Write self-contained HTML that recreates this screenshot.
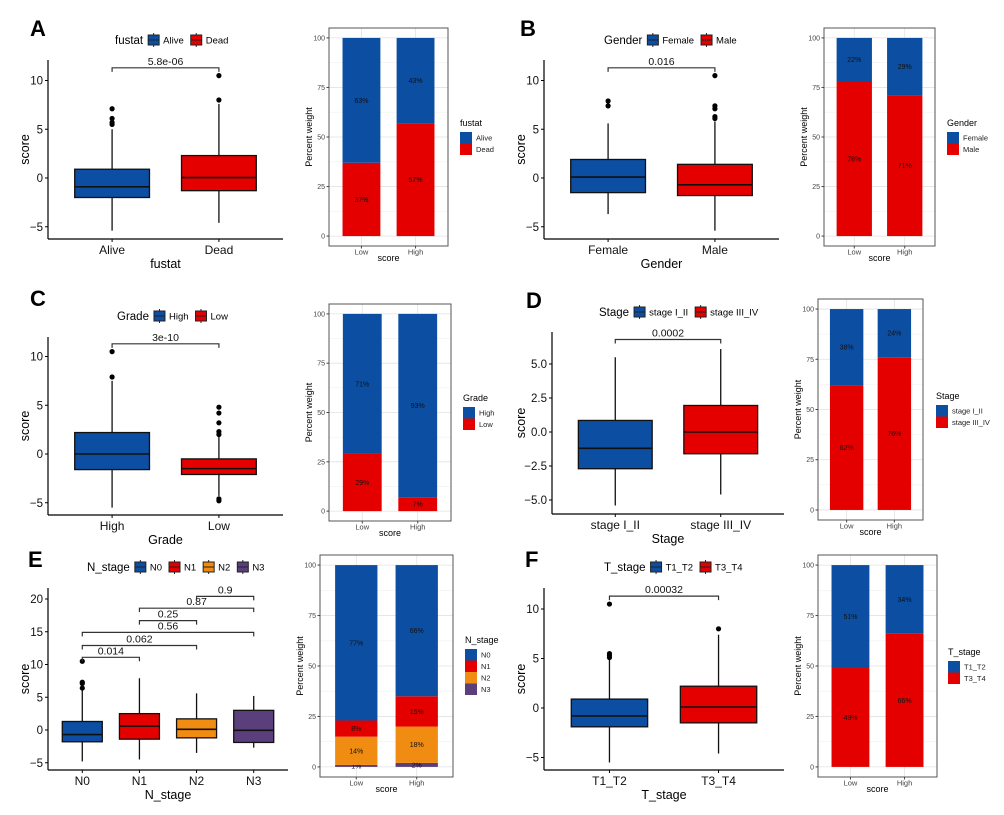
<!DOCTYPE html>
<html><head><meta charset="utf-8"><style>
html,body{margin:0;padding:0;background:#fff;}
svg{display:block;font-family:"Liberation Sans",Arial,sans-serif;}
</style></head><body>
<svg id="fig" width="1004" height="815" viewBox="0 0 1004 815" xmlns="http://www.w3.org/2000/svg"></svg>
<script>
// ---------- DATA ----------
const aCats=['Alive','Dead'];
const aStats=[[-5.4,-2.0,-0.9,0.9,5.0],[-4.6,-1.3,0.05,2.3,7.6]];
const aOut=[[5.5,5.7,6.1,7.1],[8.0,10.5]];
const aBrk=[[0,1,11.3,'5.8e-06']];
const bCats=['Female','Male'];
const bStats=[[-3.7,-1.5,0.1,1.9,5.6],[-5.4,-1.8,-0.7,1.4,5.8]];
const bOut=[[7.4,7.9],[6.1,6.3,7.1,7.4,10.5]];
const bBrk=[[0,1,11.3,'0.016']];
const cCats=['High','Low'];
const cStats=[[-5.5,-1.6,0.0,2.2,7.5],[-4.3,-2.1,-1.5,-0.5,1.8]];
const cOut=[[7.9,10.5],[2.0,2.3,3.2,4.2,4.8,-4.6,-4.8]];
const cBrk=[[0,1,11.3,'3e-10']];
const dCats=['stage I_II','stage III_IV'];
const dStats=[[-5.4,-2.7,-1.2,0.85,5.5],[-4.6,-1.6,0.0,1.95,6.1]];
const dOut=[[],[]];
const dBrk=[[0,1,6.8,'0.0002']];
const eCats=['N0','N1','N2','N3'];
const eStats=[[-4.8,-1.8,-0.7,1.3,6.2],[-4.5,-1.4,0.6,2.5,7.9],[-3.5,-1.2,0.1,1.7,5.6],[-2.7,-1.9,-0.05,3.0,5.2]];
const eOut=[[6.4,7.1,7.3,10.5],[],[],[]];
const eBrk=[[0,1,11.1,'0.014'],[0,2,12.9,'0.062'],[0,3,14.9,'0.56'],[1,2,16.7,'0.25'],[1,3,18.6,'0.87'],[2,3,20.4,'0.9']];
const fCats=['T1_T2','T3_T4'];
const fStats=[[-5.5,-1.9,-0.8,0.9,4.9],[-4.6,-1.5,0.1,2.2,7.4]];
const fOut=[[5.1,5.3,5.5,10.5],[8.0]];
const fBrk=[[0,1,11.3,'0.00032']];
// stacked bars: groups (legend order), values per x-category [Low, High]
const barCats=['Low','High'];
const aBarVals=[[63,43],[37,57]];
const bBarVals=[[22,29],[78,71]];
const cBarVals=[[71,93],[29,7]];
const dBarVals=[[38,24],[62,76]];
const eBarVals=[[77,65],[8,15],[14,18],[1,2]];
const eBarLabels=[['77%','66%'],['8%','15%'],['14%','18%'],['1%','2%']];
const fBarVals=[[51,34],[49,66]];
const ticks5=[-5,0,5,10];
const ticksD=[-5,-2.5,0,2.5,5];
const ticksE=[-5,0,5,10,15,20];
const barTicks=[0,25,50,75,100];

const BLUE='#0b4ea2',RED='#e50000',ORANGE='#f08c12',PURPLE='#5b3f7c';
const svg=document.getElementById('fig');
const NS='http://www.w3.org/2000/svg';
function el(tag,attrs,parent,text){const e=document.createElementNS(NS,tag);for(const k in attrs)e.setAttribute(k,attrs[k]);if(text!==undefined)e.textContent=text;(parent||svg).appendChild(e);return e;}

function boxPanel(g,c,cats,stats,outs,brks,cols,ticks,fmt){
  const n=cats.length;const unit=(c.right-c.ax)/(n+0.2);
  const xs=i=>c.ax+unit*(0.6+i);
  const ys=v=>c.p1+(v-c.v1)*(c.p2-c.p1)/(c.v2-c.v1);
  const hw=unit*0.35;
  const L=el('text',{x:c.lx,y:c.ly,'font-size':22,'font-weight':'bold'},g,c.letter);
  
  const lg=el('g',{},g);
  let x=c.legX;const ly=c.legY;
  const t=el('text',{x:x,y:ly+4,'font-size':11.5},lg,c.var);x+=t.getComputedTextLength()+5;
  cats.forEach((cat,i)=>{
    const k=el('g',{},lg);
    el('line',{x1:x+5.5,x2:x+5.5,y1:ly-7,y2:ly+7,stroke:'#222','stroke-width':1},k);
    el('rect',{x:x,y:ly-5,width:11,height:10,fill:cols[i],stroke:'#222','stroke-width':1},k);
    el('line',{x1:x,x2:x+11,y1:ly,y2:ly,stroke:'#222','stroke-width':1},k);
    x+=15;const tt=el('text',{x:x,y:ly+3.5,'font-size':9.5},lg,cat);
    x+=tt.getComputedTextLength()+7;
  });
  const ax=el('g',{},g);
  el('line',{x1:c.ax,x2:c.ax,y1:c.top,y2:c.bottom,stroke:'#000','stroke-width':1.2},ax);
  ticks.forEach(v=>{const y=ys(v);el('line',{x1:c.ax-3,x2:c.ax,y1:y,y2:y,stroke:'#000','stroke-width':1},ax);
    const tl=el('text',{x:c.ax-5,y:y+4,'font-size':11.5,'text-anchor':'end',fill:'#111'},ax,fmt(v));});
  const xa=el('g',{},g);
  el('line',{x1:c.ax,x2:c.right,y1:c.bottom,y2:c.bottom,stroke:'#000','stroke-width':1.2},xa);
  cats.forEach((cat,i)=>{const xx=xs(i);el('line',{x1:xx,x2:xx,y1:c.bottom,y2:c.bottom+3,stroke:'#000'},xa);
    const tl=el('text',{x:xx,y:c.bottom+15,'font-size':12,'text-anchor':'middle',fill:'#111'},xa,cat);});
  const xt=el('text',{x:(c.ax+c.right)/2,y:c.bottom+29,'font-size':12.5,'text-anchor':'middle'},g,c.var);
  
  const ym=(c.top+c.bottom)/2;
  const yt=el('text',{x:c.ytx,y:ym,'font-size':12.5,'text-anchor':'middle',transform:'rotate(-90 '+c.ytx+' '+ym+')'},g,'score');
  
  stats.forEach((s,i)=>{
    const b=el('g',{},g);
    const xx=xs(i);
    el('line',{x1:xx,x2:xx,y1:ys(s[0]),y2:ys(s[4]),stroke:'#111','stroke-width':1.3},b);
    el('rect',{x:xx-hw,y:ys(s[3]),width:2*hw,height:ys(s[1])-ys(s[3]),fill:cols[i],stroke:'#111','stroke-width':1.3},b);
    el('line',{x1:xx-hw,x2:xx+hw,y1:ys(s[2]),y2:ys(s[2]),stroke:'#111','stroke-width':1.6},b);
    outs[i].forEach(o=>{const p=el('circle',{cx:xx,cy:ys(o),r:2.6,fill:'#000'},b);});
  });
  brks.forEach(bk=>{
    const bg=el('g',{},g);
    const x1=xs(bk[0]),x2=xs(bk[1]),y=ys(bk[2]);
    el('path',{d:`M${x1} ${y+4}V${y}H${x2}V${y+4}`,fill:'none',stroke:'#333','stroke-width':1.2},bg);
    el('text',{x:(x1+x2)/2,y:y-3,'font-size':10.5,'text-anchor':'middle',fill:'#111'},bg,bk[3]);
  });
}

function barPanel(g,c,vals,cols,groups,labels){
  const w=c.x2-c.x1,h=c.y2-c.y1;
  const unit=w/2.2;const xs=i=>c.x1+unit*(0.6+i);
  const y0=c.y2-0.05*h/1.1,ppu=(h/1.1)/100;const ys=v=>y0-v*ppu;
  const grid=el('g',{},g);
  [12.5,37.5,62.5,87.5].forEach(v=>el('line',{x1:c.x1,x2:c.x2,y1:ys(v),y2:ys(v),stroke:'#f0f0f0','stroke-width':0.6},grid));
  barTicks.forEach(v=>el('line',{x1:c.x1,x2:c.x2,y1:ys(v),y2:ys(v),stroke:'#e2e2e2','stroke-width':0.8},grid));
  [0,1].forEach(i=>el('line',{x1:xs(i),x2:xs(i),y1:c.y1,y2:c.y2,stroke:'#e2e2e2','stroke-width':0.8},grid));
  const bw=unit*0.7;
  [0,1].forEach(i=>{
    let cum=0;
    for(let gi=groups.length-1;gi>=0;gi--){
      const v=vals[gi][i];
      const r=el('rect',{x:xs(i)-bw/2,y:ys(cum+v),width:bw,height:v*ppu,fill:cols[gi]},g);
      
      
      const lab=labels?labels[gi][i]:v+'%';
      const t=el('text',{x:xs(i),y:ys(cum+v/2)+2.5,'font-size':7,'text-anchor':'middle',fill:'#111'},g,lab);
      
      cum+=v;
    }
  });
  const fr=el('rect',{x:c.x1,y:c.y1,width:w,height:h,fill:'none',stroke:'#555','stroke-width':1},g);
  
  barTicks.forEach(v=>{const y=ys(v);el('line',{x1:c.x1-2.5,x2:c.x1,y1:y,y2:y,stroke:'#444'},g);
    const t=el('text',{x:c.x1-4,y:y+2.5,'font-size':7,'text-anchor':'end',fill:'#444'},g,String(v));});
  barCats.forEach((cat,i)=>{el('line',{x1:xs(i),x2:xs(i),y1:c.y2,y2:c.y2+2.5,stroke:'#444'},g);
    const t=el('text',{x:xs(i),y:c.y2+8.5,'font-size':7.5,'text-anchor':'middle',fill:'#444'},g,cat);});
  const st=el('text',{x:(c.x1+c.x2)/2,y:c.y2+15,'font-size':9,'text-anchor':'middle'},g,'score');
  const ym=(c.y1+c.y2)/2,tx=c.x1-17;
  const yt=el('text',{x:tx,y:ym,'font-size':9,'text-anchor':'middle',transform:`rotate(-90 ${tx} ${ym})`},g,'Percent weight');
  const lg=el('g',{},g);
  el('text',{x:c.lgx,y:c.lgy,'font-size':9},lg,c.var);
  groups.forEach((gr,gi)=>{const yy=c.lgy+6+gi*11.5;
    el('rect',{x:c.lgx,y:yy,width:12,height:11.5,fill:cols[gi]},lg);
    const t=el('text',{x:c.lgx+16,y:yy+8.5,'font-size':7.5,fill:'#222'},lg,gr);});
}
function mk(name){const g=el('g',{});return g;}
const f0=v=>String(v).replace('-','\u2212');
const f1=v=>v.toFixed(1).replace('-','\u2212');

boxPanel(mk('panel-a-boxplot'),{letter:'A',lx:30,ly:36,var:'fustat',legX:115,legY:40,ax:48,right:283,top:60,bottom:239,v1:0,p1:178,v2:10,p2:80.5,ytx:29},aCats,aStats,aOut,aBrk,[BLUE,RED],ticks5,f0);
barPanel(mk('panel-a-barchart'),{x1:329,x2:448,y1:28,y2:246,lgx:460,lgy:126,var:'fustat'},aBarVals,[BLUE,RED],aCats);

boxPanel(mk('panel-b-boxplot'),{letter:'B',lx:520,ly:36,var:'Gender',legX:604,legY:40,ax:544,right:779,top:60,bottom:239,v1:0,p1:178,v2:10,p2:80.5,ytx:525},bCats,bStats,bOut,bBrk,[BLUE,RED],ticks5,f0);
barPanel(mk('panel-b-barchart'),{x1:824,x2:935,y1:28,y2:246,lgx:947,lgy:126,var:'Gender'},bBarVals,[BLUE,RED],bCats);

boxPanel(mk('panel-c-boxplot'),{letter:'C',lx:30,ly:306,var:'Grade',legX:117,legY:316,ax:48,right:283,top:337,bottom:515,v1:0,p1:454,v2:10,p2:356.5,ytx:29},cCats,cStats,cOut,cBrk,[BLUE,RED],ticks5,f0);
barPanel(mk('panel-c-barchart'),{x1:329,x2:451,y1:304,y2:521,lgx:463,lgy:401,var:'Grade'},cBarVals,[BLUE,RED],cCats);

boxPanel(mk('panel-d-boxplot'),{letter:'D',lx:526,ly:308,var:'Stage',legX:599,legY:312,ax:552,right:784,top:332,bottom:514,v1:0,p1:432,v2:5,p2:364,ytx:525},dCats,dStats,dOut,dBrk,[BLUE,RED],ticksD,f1);
barPanel(mk('panel-d-barchart'),{x1:818,x2:923,y1:299,y2:520,lgx:936,lgy:399,var:'Stage'},dBarVals,[BLUE,RED],dCats);

boxPanel(mk('panel-e-boxplot'),{letter:'E',lx:28,ly:567,var:'N_stage',legX:87,legY:567,ax:48,right:288,top:588,bottom:770,v1:0,p1:730,v2:20,p2:599,ytx:29},eCats,eStats,eOut,eBrk,[BLUE,RED,ORANGE,PURPLE],ticksE,f0);
barPanel(mk('panel-e-barchart'),{x1:320,x2:453,y1:555,y2:777,lgx:465,lgy:643,var:'N_stage'},eBarVals,[BLUE,RED,ORANGE,PURPLE],eCats,eBarLabels);

boxPanel(mk('panel-f-boxplot'),{letter:'F',lx:525,ly:567,var:'T_stage',legX:604,legY:567,ax:544,right:784,top:588,bottom:770,v1:0,p1:708,v2:10,p2:609,ytx:525},fCats,fStats,fOut,fBrk,[BLUE,RED],ticks5,f0);
barPanel(mk('panel-f-barchart'),{x1:818,x2:937,y1:555,y2:777,lgx:948,lgy:655,var:'T_stage'},fBarVals,[BLUE,RED],fCats);
</script>
</body></html>
